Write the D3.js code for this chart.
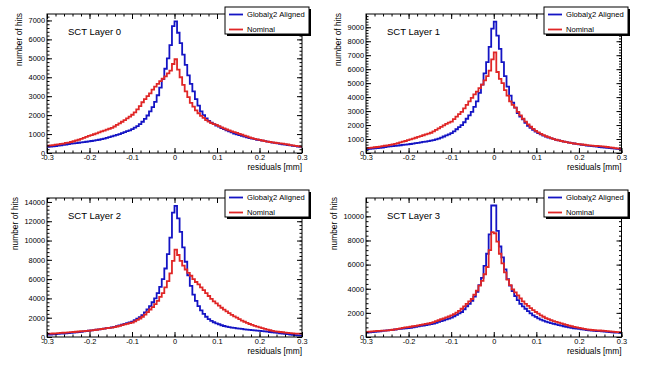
<!DOCTYPE html>
<meta charset="utf-8">
<style>
body { margin: 0; background: #fff; }
text { font-family: "Liberation Sans", Arial, Helvetica, sans-serif; }
</style>
<body>
<script src="https://d3js.org/d3.v7.min.js"></script>
<script>

// residual histograms: 100 bins from -0.3 to 0.3 mm
var xLow = -0.3, xHigh = 0.3, nBins = 100;
var xTicks = [-0.3, -0.2, -0.1, 0, 0.1, 0.2, 0.3];
var layerNames = ["SCT Layer 0", "SCT Layer 1", "SCT Layer 2", "SCT Layer 3"];
var seriesNames = ["Global\u03c72 Aligned", "Nominal"];
var yMaxes = [7340, 9950, 14410, 11520];
var yMajor = [1000, 1000, 2000, 2000];

var aligned0 = [320,335,350,370,385,405,425,450,475,490,
  505,525,540,560,575,595,615,635,650,675,
  700,730,760,800,840,880,920,960,1000,1050,
  1100,1150,1200,1260,1340,1420,1530,1650,1800,1980,
  2200,2420,2700,3050,3450,3900,4450,5000,5700,6700,
  6950,6350,5800,5200,4650,4100,3650,3250,2850,2500,
  2200,2000,1830,1700,1600,1520,1450,1390,1320,1260,
  1200,1140,1090,1030,980,940,900,860,820,790,
  760,730,700,680,650,625,600,575,550,530,
  505,480,460,440,420,400,380,360,340,320];
var nominal0 = [390,400,420,440,460,480,500,530,550,580,
  620,660,700,750,800,850,900,940,990,1040,
  1090,1140,1180,1230,1280,1330,1400,1480,1560,1650,
  1740,1830,1920,2020,2150,2300,2480,2680,2850,3000,
  3150,3350,3500,3650,3800,3920,4050,4200,4350,4700,
  4950,4400,4000,3600,3250,2950,2650,2450,2250,2100,
  1960,1850,1740,1660,1580,1530,1480,1420,1350,1300,
  1240,1190,1140,1100,1060,1010,970,920,880,830,
  790,750,720,690,660,630,600,580,560,540,
  520,510,490,470,450,420,400,380,360,335];

var aligned1 = [285,300,315,330,350,370,390,420,450,470,
  490,510,530,555,575,600,620,645,670,700,
  730,760,790,820,850,880,920,970,1030,1100,
  1180,1260,1330,1420,1550,1700,1850,2000,2200,2450,
  2700,2950,3300,3700,4300,4900,5700,6500,7600,8900,
  9400,8400,7450,6500,5500,4750,4100,3600,3250,2850,
  2600,2400,2150,1950,1800,1650,1530,1420,1330,1250,
  1170,1100,1050,990,940,900,860,820,780,740,
  710,680,650,620,590,560,530,510,490,470,
  450,430,410,390,370,350,330,310,300,285];
var nominal1 = [355,370,390,410,430,460,490,520,550,580,
  620,660,710,760,810,860,920,980,1030,1090,
  1150,1210,1270,1330,1380,1450,1550,1650,1760,1870,
  1980,2080,2170,2250,2420,2600,2780,2950,3200,3450,
  3700,3950,4200,4400,4650,4900,5200,5500,5900,6700,
  7200,5800,5300,5000,4500,4100,3700,3450,3250,2950,
  2700,2450,2250,2050,1880,1720,1590,1470,1370,1280,
  1200,1130,1060,1000,950,910,860,820,780,740,
  710,680,650,630,610,590,570,550,530,510,
  500,490,470,450,430,400,380,350,330,310];

var aligned2 = [240,260,280,300,320,340,360,385,410,430,
  455,480,505,540,575,610,650,680,720,760,
  800,840,870,910,940,990,1060,1130,1200,1280,
  1360,1440,1510,1600,1750,1900,2050,2270,2550,2850,
  3200,3600,4000,4550,5200,6000,7100,8600,10300,12900,
  13600,12300,10900,9300,7800,6400,5300,4400,3750,3200,
  2750,2400,2100,1850,1680,1530,1420,1320,1220,1140,
  1080,1030,980,940,900,870,840,800,770,740,
  710,690,660,640,610,580,550,520,490,460,
  420,390,360,330,300,260,230,200,170,140];
var nominal2 = [340,350,365,380,400,420,440,460,480,500,
  520,545,570,595,615,635,650,680,710,750,
  790,830,870,910,940,980,1030,1090,1160,1230,
  1300,1370,1430,1500,1630,1770,1920,2100,2330,2580,
  2850,3100,3400,3750,4150,4550,5150,5800,6600,7900,
  9050,8500,7900,7400,7000,6650,6350,6000,5700,5450,
  5150,4850,4550,4250,3950,3700,3480,3250,3030,2830,
  2650,2470,2300,2140,2000,1850,1700,1580,1460,1350,
  1250,1160,1080,1000,920,840,770,700,640,590,
  550,520,490,460,430,400,380,360,350,340];

var aligned3 = [370,385,400,420,440,470,500,525,545,565,
  590,620,650,680,700,715,735,760,800,840,
  880,920,950,980,1020,1060,1120,1180,1250,1320,
  1390,1460,1530,1610,1720,1840,1950,2070,2300,2550,
  2750,3000,3350,3750,4300,4900,5900,6900,8500,10900,
  10900,8800,7500,6600,5600,4800,4250,3800,3400,3050,
  2750,2530,2340,2150,1960,1800,1660,1540,1440,1350,
  1280,1210,1150,1090,1040,990,940,890,850,800,
  760,720,690,670,640,610,580,550,530,510,
  490,480,460,440,420,400,390,370,360,345];
var nominal3 = [425,440,460,480,500,515,525,535,545,570,
  600,640,680,720,760,790,815,850,890,930,
  970,1010,1050,1090,1120,1170,1240,1310,1390,1470,
  1550,1630,1700,1790,1900,2020,2170,2340,2530,2750,
  2950,3150,3500,3850,4250,4650,5200,5800,7200,8700,
  8600,7900,6900,6100,5350,4750,4300,3950,3700,3450,
  3200,2950,2750,2580,2400,2220,2070,1930,1800,1680,
  1570,1480,1400,1320,1250,1190,1130,1070,1010,950,
  890,840,790,750,710,670,640,610,580,560,
  550,540,520,500,480,460,440,420,410,400];

var alignedAll = [aligned0, aligned1, aligned2, aligned3];
var nominalAll = [nominal0, nominal1, nominal2, nominal3];

var width = 663, height = 374;
var blue = "#1414c4", red = "#e02626";

// frame boxes [left, right, top, bottom] and a few layout positions per pad
var frames = [[47, 302, 14, 153], [366, 621.5, 14, 153], [47, 302, 198, 337], [366, 621.5, 198, 337]];
var yTitleX = [19, 338, 15, 334];
var legendPos = [[225, 7], [544, 7], [225, 190], [544, 190]];

var svg = d3.select("body").append("svg")
    .attr("width", width)
    .attr("height", height);

var binW = (xHigh - xLow) / nBins;

function toSteps(vals) {
  var pts = vals.map(function(v, i) { return [xLow + i * binW, v]; });
  pts.push([xHigh, vals[vals.length - 1]]);
  return pts;
}

function styleAxis(sel, size) {
  sel.select(".domain").remove();
  sel.selectAll("line").attr("stroke", "#000");
  sel.selectAll("text")
    .attr("fill", "#000")
    .style("font-family", "'Liberation Sans', Arial, sans-serif")
    .style("font-size", size + "px");
}

frames.forEach(function(f, k) {
  var x = d3.scaleLinear().domain([xLow, xHigh]).range([f[0], f[1]]);
  var y = d3.scaleLinear().domain([0, yMaxes[k]]).range([f[3], f[2]]);
  var g = svg.append("g");

  var yTicks = d3.range(0, yMaxes[k], yMajor[k]);
  var yMinor = d3.range(0, yMaxes[k], yMajor[k] / 5);
  var xMinor = d3.range(-15, 16).map(function(j) { return j * 0.02; });
  var fmtX = function(d) { return Math.abs(d) < 1e-9 ? "0" : d.toFixed(1); };

  g.append("clipPath").attr("id", "clip" + k)
    .append("rect")
    .attr("x", f[0]).attr("y", f[2])
    .attr("width", f[1] - f[0]).attr("height", f[3] - f[2]);

  // histograms
  var line = d3.line()
      .x(function(d) { return x(d[0]); })
      .y(function(d) { return y(d[1]); })
      .curve(d3.curveStepAfter);

  [[alignedAll[k], blue], [nominalAll[k], red]].forEach(function(s) {
    g.append("path")
      .attr("clip-path", "url(#clip" + k + ")")
      .attr("d", line(toSteps(s[0])))
      .attr("fill", "none")
      .attr("stroke", s[1])
      .attr("stroke-width", 1.8);
  });

  // frame
  g.append("rect")
    .attr("x", f[0]).attr("y", f[2])
    .attr("width", f[1] - f[0]).attr("height", f[3] - f[2])
    .attr("fill", "none").attr("stroke", "#000").attr("stroke-width", 1);

  // axes, ticks pointing inward on all four sides
  g.append("g").attr("transform", "translate(0," + f[3] + ")")
    .call(d3.axisBottom(x).tickValues(xTicks).tickSize(-5).tickPadding(1.5).tickFormat(fmtX))
    .call(styleAxis, 7.4);
  g.append("g").attr("transform", "translate(0," + f[3] + ")")
    .call(d3.axisBottom(x).tickValues(xMinor).tickSize(-2.5).tickFormat(""))
    .call(styleAxis, 7);
  g.append("g").attr("transform", "translate(0," + f[2] + ")")
    .call(d3.axisTop(x).tickValues(xTicks).tickSize(-5).tickFormat(""))
    .call(styleAxis, 7);
  g.append("g").attr("transform", "translate(0," + f[2] + ")")
    .call(d3.axisTop(x).tickValues(xMinor).tickSize(-2.5).tickFormat(""))
    .call(styleAxis, 7);

  g.append("g").attr("transform", "translate(" + f[0] + ",0)")
    .call(d3.axisLeft(y).tickValues(yTicks).tickSize(-5).tickPadding(2).tickFormat(d3.format("d")))
    .call(styleAxis, 7.4);
  g.append("g").attr("transform", "translate(" + f[0] + ",0)")
    .call(d3.axisLeft(y).tickValues(yMinor).tickSize(-2.5).tickFormat(""))
    .call(styleAxis, 7);
  g.append("g").attr("transform", "translate(" + f[1] + ",0)")
    .call(d3.axisRight(y).tickValues(yTicks).tickSize(-5).tickFormat(""))
    .call(styleAxis, 7);
  g.append("g").attr("transform", "translate(" + f[1] + ",0)")
    .call(d3.axisRight(y).tickValues(yMinor).tickSize(-2.5).tickFormat(""))
    .call(styleAxis, 7);

  // titles
  g.append("text")
    .attr("x", f[1]).attr("y", f[3] + 14).attr("dy", "0.35em")
    .attr("text-anchor", "end")
    .style("font-size", "8.4px")
    .text("residuals [mm]");

  g.append("text")
    .attr("transform", "translate(" + yTitleX[k] + "," + (f[2] - 1) + ") rotate(-90)")
    .attr("dy", "0.35em")
    .attr("text-anchor", "end")
    .style("font-size", "8.4px")
    .text("number of hits");

  g.append("text")
    .attr("x", f[0] + 21).attr("y", f[2] + 17.5).attr("dy", "0.35em")
    .style("font-size", "9.5px")
    .text(layerNames[k]);

  // legend with ROOT-like drop shadow
  var lx = legendPos[k][0], ly = legendPos[k][1], lw = 84, lh = 27;
  g.append("rect").attr("x", lx + 2).attr("y", ly + 2).attr("width", lw).attr("height", lh).attr("fill", "#000");
  g.append("rect").attr("x", lx).attr("y", ly).attr("width", lw).attr("height", lh)
    .attr("fill", "#fff").attr("stroke", "#000").attr("stroke-width", 1);
  [blue, red].forEach(function(c, j) {
    var yy = ly + 7.5 + j * 15;
    g.append("line").attr("x1", lx + 4).attr("x2", lx + 18).attr("y1", yy).attr("y2", yy)
      .attr("stroke", c).attr("stroke-width", 1.8);
    g.append("text").attr("x", lx + 22).attr("y", yy).attr("dy", "0.35em")
      .style("font-size", "7.6px")
      .text(seriesNames[j]);
  });
});

</script>
